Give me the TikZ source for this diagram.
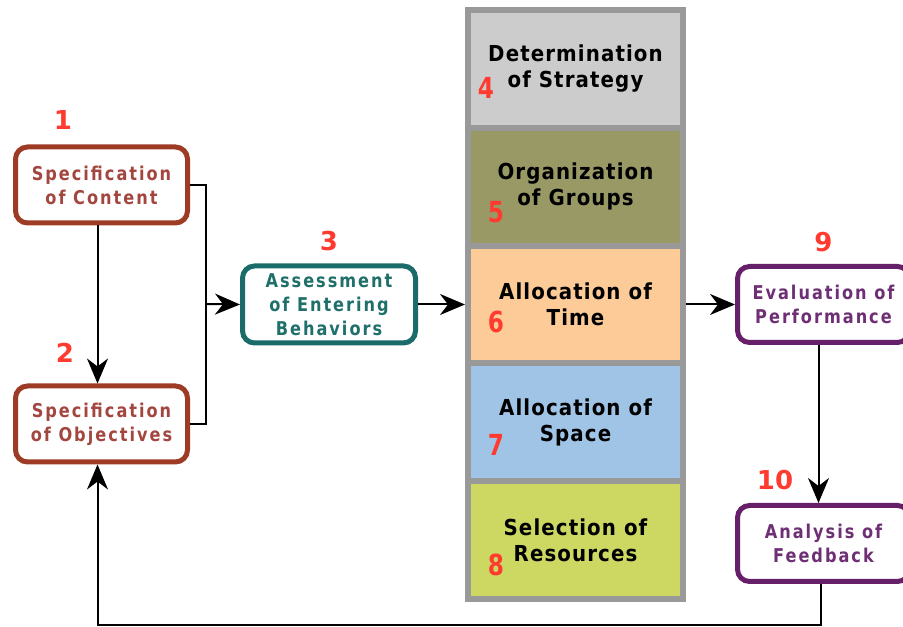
\documentclass[tikz,border=0pt]{standalone}
\usepackage{fontspec}
\setmainfont{DejaVu Sans}
\newfontfamily\stagefont[LetterSpace=10.5, FakeStretch=0.85]{DejaVu Sans}
\newfontfamily\cellfont[LetterSpace=5.0, FakeStretch=0.9]{DejaVu Sans}
\newfontfamily\numfont{DejaVu Sans}
\newfontfamily\cellnumfont[FakeStretch=0.8]{DejaVu Sans}
\usetikzlibrary{shapes.geometric, arrows.meta, positioning}
\definecolor{brownline}{HTML}{9E3B25}
\definecolor{browntext}{HTML}{A3463F}
\definecolor{tealline}{HTML}{1B6B6B}
\definecolor{tealtext}{HTML}{1F6F6A}
\definecolor{purpleline}{HTML}{66206A}
\definecolor{purpletext}{HTML}{6E2F75}
\definecolor{numred}{HTML}{FF3B30}
\definecolor{cellborder}{HTML}{999999}
\definecolor{strategyfill}{HTML}{CCCCCC}
\definecolor{groupsfill}{HTML}{999966}
\definecolor{timefill}{HTML}{FCCB97}
\definecolor{spacefill}{HTML}{A0C4E6}
\definecolor{resourcefill}{HTML}{CCD862}
\tikzstyle{stage} = [rectangle, rounded corners=12pt, minimum width=172pt, minimum height=76pt, inner sep=0pt, align=center, line width=5pt, fill=white, font={\stagefont\bfseries\fontsize{19}{24}\selectfont}]
\tikzstyle{brownstage} = [stage, draw=brownline, text=browntext]
\tikzstyle{tealstage} = [stage, draw=tealline, text=tealtext, minimum width=173pt, minimum height=77pt]
\tikzstyle{purplestage} = [stage, draw=purpleline, text=purpletext, minimum width=172pt]
\tikzstyle{cell} = [rectangle, minimum width=215pt, minimum height=117.8pt, inner sep=0pt, align=center, draw=cellborder, line width=6pt, font={\cellfont\bfseries\fontsize{22}{26}\selectfont}]
\tikzstyle{num} = [text=numred, inner sep=0pt, font={\numfont\bfseries\fontsize{26}{26}\selectfont}]
\tikzstyle{cellnum} = [num, font={\cellnumfont\bfseries\fontsize{29}{29}\selectfont}]
\tikzstyle{arrow} = [line width=2pt, -{Stealth[length=25pt, width=21pt, inset=8pt]}]
\tikzstyle{plainline} = [line width=2pt]

\begin{document}
\begin{tikzpicture}[x=1pt, y=1pt, node distance=117.8pt]
        \useasboundingbox (0,0) rectangle (903,627);
        % column of planning steps
        \node (strategy) [cell, fill=strategyfill] at (575.5,558.1) {Determination\\of Strategy};
        \node (groups) [cell, fill=groupsfill, below of=strategy] {Organization\\of Groups};
        \node (time) [cell, fill=timefill, below of=groups] {Allocation of\\Time};
        \node (space) [cell, fill=spacefill, below of=time] {Allocation of\\Space};
        \node (resources) [cell, fill=resourcefill, below of=space] {Selection of\\Resources};
        % stages
        \node (content) [brownstage] at (101.5,442) {Specification\\of Content};
        \node (objectives) [brownstage, below=158pt of content] {Specification\\of Objectives};
        \node (assess) [tealstage, left=47pt of time] {Assessment\\of Entering\\Behaviors};
        \node (evaluate) [purplestage, right=49pt of time] {Evaluation of\\Performance};
        \node (feedback) [purplestage, below=158pt of evaluate] {Analysis of\\Feedback};
        % step numbers
        \node (n1) [num] at (63,507) {1};
        \node (n2) [num] at (65,274) {2};
        \node (n3) [num, above=12pt of assess] {3};
        \node (n4) [cellnum] at (486,539) {4};
        \node (n5) [cellnum] at (496,415) {5};
        \node (n6) [cellnum] at (496,305) {6};
        \node (n7) [cellnum] at (496,182) {7};
        \node (n8) [cellnum] at (496,62) {8};
        \node (n9) [num, above=12pt of evaluate] {9};
        \node (n10) [num] at (775,147) {10};
        % connectors
        \coordinate (join) at (206,323);
        \coordinate (loop) at (400,2);
        \draw [arrow] ([xshift=-4pt]content.south) -- ([xshift=-4pt]objectives.north);
        \draw [plainline] (content.east) -| (join) |- (objectives.east);
        \draw [arrow] (join) -- (assess.west);
        \draw [arrow] (assess.east) -- (time.west);
        \draw [arrow] (time.east) -- (evaluate.west);
        \draw [arrow] ([xshift=-5pt]evaluate.south) -- ([xshift=-5pt]feedback.north);
        \draw [arrow] ([xshift=-3pt]feedback.south) |- (loop) -| ([xshift=-4pt]objectives.south);
      \end{tikzpicture}
\end{document}
